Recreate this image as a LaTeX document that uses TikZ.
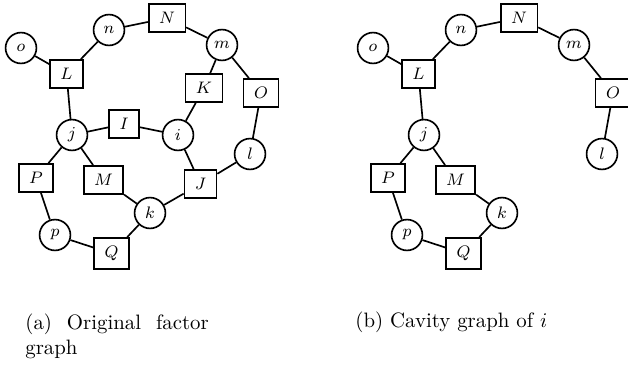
\documentclass[tikz,border=0pt]{standalone}
\usepackage{amsmath}
\tikzset{%
  var node/.style={
    circle,
    draw,
    thick,
    minimum size=14.8pt,
    inner sep=1pt,
    font=\footnotesize
  },
  factor node/.style={
    rectangle,
    draw,
    thick,
    inner xsep=5pt,
    inner ysep=4pt,
    minimum width=13pt,
    font=\footnotesize
  },
  graph edge/.style={thick},
}

\begin{document}
\begin{tikzpicture}[x=0.48pt, y=-0.48pt]
        \useasboundingbox (0,0) rectangle (628,367);
        % original factor graph
        \foreach \m/\x/\y in {o/21/48, n/109/30, m/222/45, j/72/135, i/178/135, l/250/154, k/150/213, p/55/235}
            \node [var node] (left-\m) at (\x,\y) {$\m$};
        \foreach \m/\x/\y in {N/167/18, L/66.5/74, K/204/88, O/261/93, I/124/124, P/36/178, M/103.5/180, J/200.5/184, Q/111.7/253.5}
            \node [factor node] (left-\m) at (\x,\y) {$\m$};
        \foreach \a/\b in {o/L, L/n, n/N, N/m, m/K, m/O, K/i, L/j, j/I, I/i, i/J, O/l, l/J, j/P, j/M, M/k, k/J, P/p, p/Q, Q/k}
            \draw [graph edge] (left-\a) -- (left-\b);

        % cavity graph of i
        \foreach \m/\x/\y in {o/21/48, n/109/30, m/222/45, j/72/135, l/250/154, k/150/213, p/55/235}
            \node [var node] (right-\m) at (352+\x,\y) {$\m$};
        \foreach \m/\x/\y in {N/167/18, L/66.5/74, O/261/93, P/36/178, M/103.5/180, Q/111.7/253.5}
            \node [factor node] (right-\m) at (352+\x,\y) {$\m$};
        \foreach \a/\b in {o/L, L/n, n/N, N/m, m/O, O/l, L/j, j/P, j/M, M/k, P/p, p/Q, Q/k}
            \draw [graph edge] (right-\a) -- (right-\b);

        \node [align=justify, text width=88pt, inner sep=0, anchor=north west] (caption-a) at (25,313) {(a) Original factor graph};
        \node [inner sep=0, anchor=base west] (caption-b) at (355,327) {(b) Cavity graph of $i$};
\end{tikzpicture}
\end{document}
